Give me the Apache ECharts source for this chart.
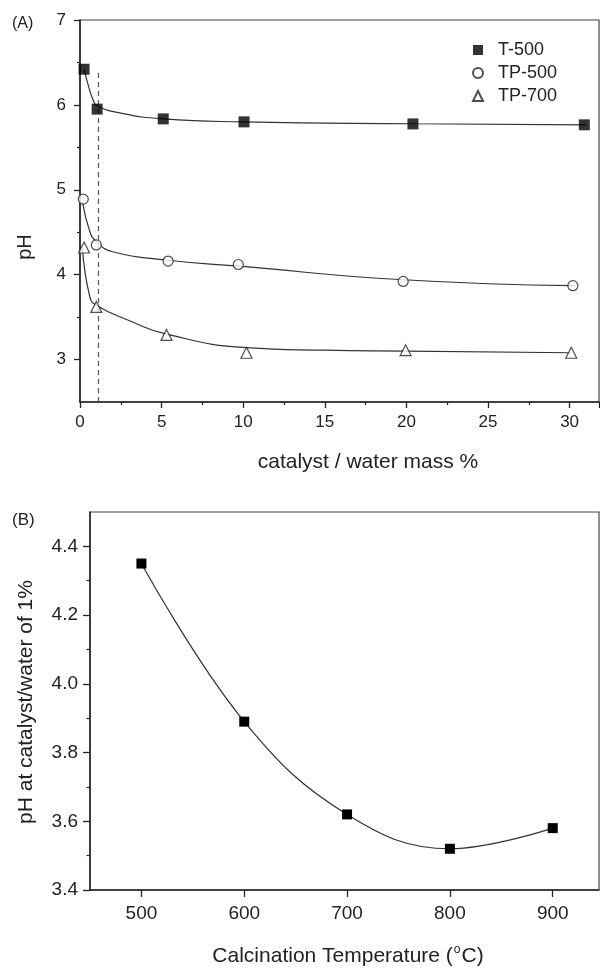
<!DOCTYPE html>
<html><head><meta charset="utf-8">
<script src="https://cdn.jsdelivr.net/npm/echarts@6/dist/echarts.min.js"></script>
<style>html,body{margin:0;padding:0;background:#fff}#c{width:600px;height:968px}</style>
</head><body><div id="c"></div>
<script>
// ---- Panel A data (catalyst / water mass %, pH) ----
const t500X = [0.25, 1.05, 5.1, 10.05, 20.4, 30.9];
const t500Y = [6.42, 5.95, 5.835, 5.80, 5.776, 5.765];
const tp500X = [0.2, 1.0, 5.4, 9.7, 19.8, 30.2];
const tp500Y = [4.89, 4.35, 4.16, 4.12, 3.92, 3.87];
const tp700X = [0.25, 1.0, 5.3, 10.2, 19.95, 30.1];
const tp700Y = [4.32, 3.62, 3.29, 3.08, 3.11, 3.08];
// fitted curves
const fitT500X = [0.25, 0.55, 0.8, 1.05, 2.45, 5.1, 10, 20.4, 31];
const fitT500Y = [6.42, 6.2, 6.06, 5.99, 5.905, 5.835, 5.80, 5.778, 5.765];
const fitTP500X = [0.15, 0.6, 1.0, 2.0, 5.4, 9.7, 19.8, 30.2];
const fitTP500Y = [4.86, 4.51, 4.39, 4.27, 4.17, 4.10, 3.94, 3.87];
const fitTP700X = [0.15, 0.6, 1.0, 3.0, 5.3, 10.2, 15, 20, 30.1];
const fitTP700Y = [4.31, 3.74, 3.64, 3.46, 3.30, 3.14, 3.11, 3.10, 3.08];
const dashX = 1.1, dashTop = 6.41;
const yTicksA = [3, 4, 5, 6, 7];
const yMinorA = [3.5, 4.5, 5.5, 6.5];
// ---- Panel B data ----
const tempX = [500, 600, 700, 800, 900];
const pH1 = [4.35, 3.89, 3.62, 3.52, 3.58];
const xTicksB = [500, 600, 700, 800, 900];
const yTicksB = [3.4, 3.6, 3.8, 4.0, 4.2, 4.4];
const yMinorB = [3.5, 3.7, 3.9, 4.1, 4.3];

const zip = (a, b) => a.map((v, i) => [v, b[i]]);
const FONT = '"Liberation Sans", Arial, sans-serif';
const TXT = '#222';
const axisLine = {show: true, lineStyle: {color: '#222', width: 1.5}};

const chart = echarts.init(document.getElementById('c'));
chart.setOption({
  backgroundColor: '#fff',
  animation: false,
  textStyle: {fontFamily: FONT},
  grid: [
    {left: 80, top: 20, right: 1, height: 382, show: true, borderColor: '#444', borderWidth: 1.2},
    {left: 90, top: 512, right: 1, height: 378, show: true, borderColor: '#444', borderWidth: 1.2}
  ],
  xAxis: [
    {type: 'value', gridIndex: 0, min: 0, max: 31.8, interval: 5,
     axisLine: axisLine, splitLine: {show: false},
     axisTick: {show: true, length: 6, inside: false, lineStyle: {color: '#222', width: 1.3}},
     minorTick: {show: true, splitNumber: 2, length: 3, lineStyle: {color: '#222', width: 1.2}},
     axisLabel: {fontSize: 17, color: TXT, margin: 12, fontFamily: FONT, showMaxLabel: false}},
    {type: 'value', gridIndex: 1, min: 450, max: 945,
     axisLine: axisLine, splitLine: {show: false},
     axisTick: {show: true, length: 7, customValues: xTicksB, lineStyle: {color: '#222', width: 1.3}},
     axisLabel: {fontSize: 19, color: TXT, margin: 14, fontFamily: FONT, customValues: xTicksB}}
  ],
  yAxis: [
    {type: 'value', gridIndex: 0, min: 2.5, max: 7,
     axisLine: axisLine, splitLine: {show: false},
     axisTick: {show: true, length: 6, customValues: yTicksA, lineStyle: {color: '#222', width: 1.3}},
     axisLabel: {fontSize: 17, color: TXT, margin: 14, fontFamily: FONT, customValues: yTicksA}},
    {type: 'value', gridIndex: 0, min: 2.5, max: 7, position: 'left',
     axisLine: {show: false}, splitLine: {show: false},
     axisTick: {show: true, length: 3, customValues: yMinorA, lineStyle: {color: '#222', width: 1.2}},
     axisLabel: {show: false}},
    {type: 'value', gridIndex: 1, min: 3.4, max: 4.5,
     axisLine: axisLine, splitLine: {show: false},
     axisTick: {show: true, length: 7, customValues: yTicksB, lineStyle: {color: '#222', width: 1.3}},
     axisLabel: {fontSize: 19, color: TXT, margin: 12, fontFamily: FONT, customValues: yTicksB,
       formatter: v => v.toFixed(1)}},
    {type: 'value', gridIndex: 1, min: 3.4, max: 4.5, position: 'left',
     axisLine: {show: false}, splitLine: {show: false},
     axisTick: {show: true, length: 3.5, customValues: yMinorB, lineStyle: {color: '#222', width: 1.2}},
     axisLabel: {show: false}}
  ],
  legend: {
    orient: 'vertical', left: 467, top: 36, itemWidth: 10, itemHeight: 10, itemGap: 5,
    data: ['T-500', 'TP-500', 'TP-700'],
    textStyle: {fontSize: 18, color: TXT, fontFamily: FONT, padding: [0, 0, 0, 10]}
  },
  series: [
    {name: 'fitT500', type: 'line', xAxisIndex: 0, yAxisIndex: 0, data: zip(fitT500X, fitT500Y),
     smooth: 0.5, showSymbol: false, lineStyle: {color: '#333', width: 1.2}, z: 2,
     markLine: {silent: true, symbol: 'none', label: {show: false},
       lineStyle: {type: [5, 4], color: '#555', width: 1.2},
       data: [[{coord: [dashX, 2.5]}, {coord: [dashX, dashTop]}]]}},
    {name: 'fitTP500', type: 'line', xAxisIndex: 0, yAxisIndex: 0, data: zip(fitTP500X, fitTP500Y),
     smooth: 0.5, showSymbol: false, lineStyle: {color: '#333', width: 1.2}, z: 2},
    {name: 'fitTP700', type: 'line', xAxisIndex: 0, yAxisIndex: 0, data: zip(fitTP700X, fitTP700Y),
     smooth: 0.5, showSymbol: false, lineStyle: {color: '#333', width: 1.2}, z: 2},
    {name: 'T-500', type: 'scatter', xAxisIndex: 0, yAxisIndex: 0, data: zip(t500X, t500Y),
     symbol: 'rect', symbolSize: 11, itemStyle: {color: '#000'}, z: 5},
    {name: 'TP-500', type: 'scatter', xAxisIndex: 0, yAxisIndex: 0, data: zip(tp500X, tp500Y),
     symbol: 'circle', symbolSize: 10, itemStyle: {color: '#fff', borderColor: '#222', borderWidth: 1.2}, z: 5},
    {name: 'TP-700', type: 'scatter', xAxisIndex: 0, yAxisIndex: 0, data: zip(tp700X, tp700Y),
     symbol: 'triangle', symbolSize: 11, itemStyle: {color: '#fff', borderColor: '#222', borderWidth: 1.2}, z: 5},
    {name: 'B', type: 'line', xAxisIndex: 1, yAxisIndex: 2, data: zip(tempX, pH1),
     smooth: 0.4, symbol: 'rect', symbolSize: 10, itemStyle: {color: '#000'},
     lineStyle: {color: '#333', width: 1.2}, z: 5}
  ],
  graphic: [
    {type: 'text', left: 12, top: 16, style: {text: '(A)', fontSize: 16, fill: TXT, fontFamily: FONT}},
    {type: 'text', left: 12, top: 512, style: {text: '(B)', fontSize: 17, fill: TXT, fontFamily: FONT}},
    {type: 'text', x: 25, y: 247, rotation: Math.PI / 2,
     style: {text: 'pH', fontSize: 20, fill: TXT, fontFamily: FONT, align: 'center', verticalAlign: 'middle'}},
    {type: 'text', x: 368, y: 462,
     style: {text: 'catalyst / water mass %', fontSize: 21, fill: TXT, fontFamily: FONT, align: 'center', verticalAlign: 'middle'}},
    {type: 'text', x: 26, y: 702, rotation: Math.PI / 2,
     style: {text: 'pH at catalyst/water of 1%', fontSize: 21, fill: TXT, fontFamily: FONT, align: 'center', verticalAlign: 'middle'}},
    {type: 'text', x: 348, y: 956,
     style: {text: 'Calcination Temperature ({sup|o}C)', fontSize: 21, fill: TXT, fontFamily: FONT,
       align: 'center', verticalAlign: 'middle',
       rich: {sup: {fontSize: 12, fill: TXT, fontFamily: FONT, padding: [0, 1, 12, 1]}}}}
  ]
});
</script></body></html>
